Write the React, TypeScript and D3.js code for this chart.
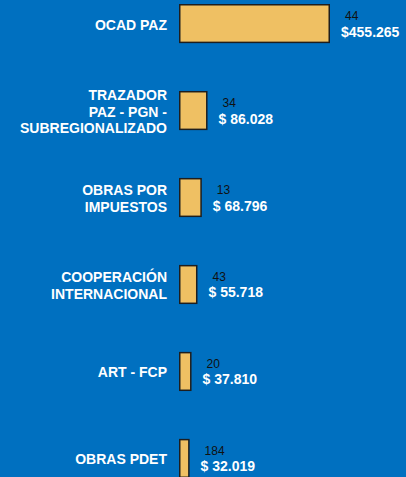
import React from "react";
import * as d3 from "d3";

const categories: string[][] = [
  ["OCAD PAZ"],
  ["TRAZADOR", "PAZ - PGN -", "SUBREGIONALIZADO"],
  ["OBRAS POR", "IMPUESTOS"],
  ["COOPERACIÓN", "INTERNACIONAL"],
  ["ART - FCP"],
  ["OBRAS PDET"],
];
const amounts: number[] = [455265, 86028, 68796, 55718, 37810, 32019];
const amountLabels: string[] = ["$455.265", "$ 86.028", "$ 68.796", "$ 55.718", "$ 37.810", "$ 32.019"];
const counts: number[] = [44, 34, 13, 43, 20, 184];

const W = 406;
const H = 477;

export default function App() {
  const keys = categories.map((c) => c.join(" "));
  const y = d3.scaleBand<string>().domain(keys).range([4, 478]).paddingInner(0.55).paddingOuter(0);
  const x = d3.scaleLinear().domain([0, d3.max(amounts) as number]).range([179, 330]);
  const bw = y.bandwidth();
  const font = "'Liberation Sans', Arial, sans-serif";
  return (
    <svg width={W} height={H} style={{ position: "absolute", left: 0, top: 0, display: "block" }}>
      <rect x={0} y={0} width={W} height={H} fill="#0070C0" />
      {keys.map((k, i) => {
        const y0 = y(k) as number;
        const cy = y0 + bw / 2;
        const x1 = x(amounts[i]);
        const lines = categories[i];
        const n = lines.length;
        return (
          <g key={k}>
            <rect
              x={x(0) + 0.75}
              y={y0 + 0.75}
              width={Math.max(0, x1 - x(0) - 1.5)}
              height={bw - 1.5}
              fill="#EFC063"
              stroke="#1e1e1e"
              strokeWidth={1.5}
            />
            <text
              textAnchor="end"
              fill="#ffffff"
              fontFamily={font}
              fontWeight="bold"
              fontSize={14}
            >
              {lines.map((l, j) => (
                <tspan key={j} x={167} y={cy + 6 + (j - (n - 1) / 2) * 16.5}>
                  {l}
                </tspan>
              ))}
            </text>
            <text x={x1 + 15} y={cy - 3.5} fill="#111111" fontFamily={font} fontSize={12}>
              {counts[i]}
            </text>
            <text x={x1 + 11} y={cy + 13} fill="#ffffff" fontFamily={font} fontWeight="bold" fontSize={14}>
              {amountLabels[i]}
            </text>
          </g>
        );
      })}
    </svg>
  );
}
